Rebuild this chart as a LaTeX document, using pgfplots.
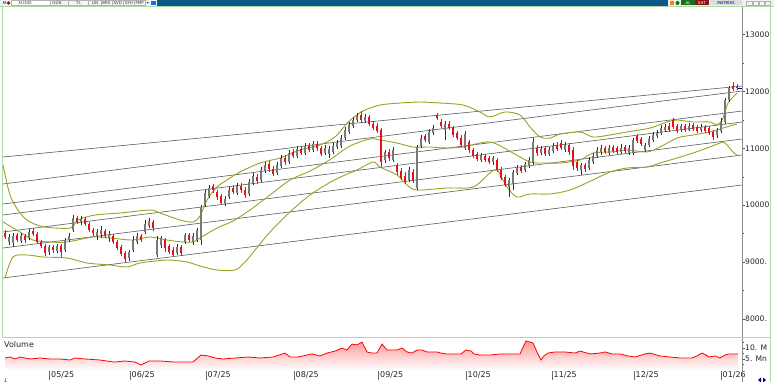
\documentclass[border=0pt]{standalone}
\usepackage{fontspec}
\setmainfont{DejaVu Sans}
\usepackage{pgfplots}
\usepackage{pgfplotstable}
\pgfplotsset{compat=1.18}
\definecolor{band}{HTML}{A0A024}
\definecolor{chan}{HTML}{5A5A5A}
\definecolor{upb}{HTML}{787878}
\definecolor{upw}{HTML}{2E2E2E}
\definecolor{dnb}{HTML}{E8101A}
\definecolor{brd}{HTML}{A9DBA9}
\definecolor{topblue}{HTML}{0D5889}
\definecolor{algreen}{HTML}{1E6A1E}
\definecolor{satred}{HTML}{8A1212}

\pgfplotstableread{
x o h l c
5 9509 9562 9404 9439
17 9474 9509 9351 9386
25 9456 9492 9333 9386
33 9544 9597 9456 9492
37 9492 9527 9316 9351
41 9351 9386 9245 9280
45 9280 9316 9104 9157
53 9263 9298 9157 9210
61 9280 9316 9087 9175
77 9773 9808 9668 9703
85 9756 9791 9632 9668
89 9668 9703 9527 9562
93 9562 9597 9456 9509
105 9544 9580 9421 9456
113 9456 9492 9316 9351
117 9351 9386 9210 9245
121 9263 9298 9104 9140
125 9157 9192 8999 9052
141 9456 9492 9351 9386
153 9703 9738 9544 9597
165 9386 9421 9175 9245
169 9280 9316 9140 9175
173 9210 9263 9087 9122
181 9263 9298 9104 9157
189 9474 9509 9351 9386
213 10336 10372 10213 10266
217 10231 10266 10090 10143
221 10160 10196 10002 10037
233 10301 10354 10196 10231
241 10336 10389 10213 10266
245 10266 10319 10125 10178
257 10495 10548 10372 10424
269 10724 10776 10583 10636
273 10636 10688 10512 10548
285 10829 10882 10706 10759
293 10935 10988 10829 10864
301 10988 11040 10882 10917
309 11040 11093 10935 10970
317 11076 11128 10952 11005
321 11005 11040 10864 10900
361 11586 11656 11445 11498
369 11551 11586 11392 11428
373 11428 11480 11322 11357
377 11392 11445 11269 11304
381 11322 11357 10671 10759
389 10935 10988 10776 10829
397 10706 10741 10530 10583
401 10600 10653 10442 10477
405 10512 10583 10372 10424
413 10583 10636 10389 10442
425 11216 11252 11111 11146
437 11586 11621 11498 11533
441 11463 11516 11357 11392
449 11428 11480 11322 11357
453 11357 11392 11199 11234
457 11269 11304 11146 11181
461 11181 11234 11023 11058
469 11111 11146 10917 10970
473 10970 11005 10829 10864
477 10900 10935 10776 10812
485 10864 10900 10759 10794
489 10829 10864 10724 10759
497 10794 10829 10583 10618
501 10618 10671 10442 10477
505 10495 10530 10319 10354
521 10671 10706 10565 10600
537 11005 11058 10864 10917
545 11005 11040 10864 10900
557 11058 11111 10952 10988
561 11093 11146 10970 11005
569 11058 11093 10882 10935
573 10970 11023 10618 10688
577 10759 10794 10600 10653
585 10706 10741 10583 10636
605 11005 11040 10900 10935
613 11023 11058 10917 10952
617 11005 11040 10900 10935
625 11023 11058 10917 10952
637 11216 11252 11093 11128
641 11164 11199 11040 11076
669 11392 11445 11287 11322
673 11498 11533 11340 11375
677 11392 11428 11269 11304
685 11392 11428 11287 11322
693 11410 11445 11304 11340
697 11375 11410 11269 11304
705 11375 11410 11269 11304
709 11357 11392 11234 11269
713 11287 11322 11146 11199
733 12096 12167 12008 12044
737 12079 12132 12026 12061
}\dn

\pgfplotstableread{
x o h l c
9 9351 9492 9298 9439
13 9333 9509 9263 9456
21 9368 9509 9333 9456
29 9421 9580 9386 9527
49 9175 9298 9122 9263
57 9192 9316 9157 9280
65 9210 9421 9175 9386
69 9386 9509 9351 9456
73 9562 9826 9527 9773
81 9703 9808 9650 9756
97 9456 9580 9386 9527
101 9492 9632 9421 9562
109 9421 9544 9351 9492
129 9069 9210 9016 9175
133 9210 9456 9175 9386
137 9351 9509 9316 9456
145 9527 9738 9492 9668
149 9632 9773 9597 9720
157 9122 9456 9087 9386
161 9298 9456 9245 9421
177 9157 9316 9122 9263
185 9351 9509 9316 9474
193 9351 9509 9298 9456
197 9386 9597 9351 9562
201 9386 10002 9298 9967
205 10002 10266 9967 10213
209 10160 10354 10125 10301
225 10020 10160 9984 10108
229 10143 10319 10108 10266
237 10213 10389 10178 10336
249 10196 10460 10160 10407
253 10389 10565 10354 10512
261 10442 10671 10407 10618
265 10600 10759 10565 10706
277 10565 10759 10530 10706
281 10688 10882 10653 10829
289 10759 10970 10724 10917
297 10864 11040 10829 10988
305 10917 11093 10882 11040
313 10970 11128 10935 11076
325 10917 11058 10882 11005
329 10900 11040 10829 10988
333 10935 11093 10900 11040
337 11023 11146 10988 11093
341 11040 11234 11005 11181
345 11181 11375 11146 11322
349 11287 11463 11252 11410
353 11392 11551 11357 11498
357 11498 11621 11463 11568
365 11480 11604 11445 11551
385 10794 10970 10741 10935
393 10794 11023 10759 10970
409 10442 10671 10407 10618
417 10301 11058 10266 11023
421 11040 11234 11005 11181
429 11111 11340 11076 11287
433 11269 11410 11234 11357
445 11322 11480 11146 11428
465 11005 11304 10970 11252
481 10794 10917 10759 10882
493 10759 10864 10706 10829
509 10319 10477 10143 10442
513 10372 10618 10266 10583
517 10565 10706 10530 10653
525 10618 10759 10583 10724
529 10688 10847 10653 10794
533 10759 11181 10706 11111
541 10917 11040 10882 10988
549 10900 11023 10864 10970
553 10952 11093 10917 11040
565 10970 11111 10935 11058
581 10618 10741 10530 10706
589 10653 10847 10618 10794
593 10759 10917 10724 10864
597 10864 11023 10829 10970
601 10935 11058 10882 11005
609 10917 11058 10882 11005
621 10935 11076 10900 11005
629 10917 11058 10882 11005
633 10917 11181 10882 11146
645 10970 11093 10935 11058
649 11058 11216 11023 11164
653 11146 11287 11111 11234
657 11216 11322 11181 11269
661 11269 11410 11234 11357
665 11322 11428 11287 11375
681 11322 11428 11287 11392
689 11322 11445 11304 11392
701 11322 11428 11287 11375
717 11234 11357 11181 11322
721 11304 11533 11269 11463
725 11463 11886 11428 11850
729 11850 12096 11815 12061
}\up

\pgfplotstableread{
x v
5 5.45
10 5.9
15 5.0
20 5.9
25 5.45
30 5.0
40 5.45
50 5.0
60 5.0
70 4.55
75 5.45
85 5.0
100 4.55
114 3.6
125 4.1
135 3.6
141 2.3
149 4.1
160 4.1
175 3.6
185 3.6
193 3.6
201 6.8
208 6.4
215 5.45
223 5.0
235 5.45
248 5.9
260 5.45
273 5.9
285 7.7
290 5.9
298 5.9
312 7.3
320 6.4
327 7.7
335 8.6
342 10.0
347 9.1
352 11.8
357 11.4
362 12.7
367 8.2
372 7.7
377 7.7
382 11.8
387 9.1
392 9.1
397 9.1
402 10.0
407 8.2
412 7.7
417 9.1
422 9.1
427 8.2
432 8.2
437 8.2
441 7.7
446 7.3
451 7.3
456 7.3
461 7.3
466 9.1
471 8.6
474 7.3
480 6.8
490 6.8
500 7.3
510 7.3
520 7.3
526 13.2
530 12.7
533 12.3
537 8.2
541 4.55
544 6.4
548 7.7
555 8.2
565 8.2
575 7.7
580 8.6
590 7.3
600 7.7
605 8.2
612 7.3
620 7.3
628 6.4
635 5.9
645 7.3
650 7.7
660 6.4
670 5.9
680 5.45
685 5.45
692 5.45
697 6.4
702 7.7
706 6.8
709 5.9
715 6.4
720 5.45
725 6.8
729 7.3
735 7.3
738 7.3
}\vol

\pgfplotsset{
  candle/.style n args={2}{draw=none, mark=none, no markers,
    error bars/.cd, y dir=plus, y explicit, error mark=none,
    error bar style={draw=#1, line width=#2, solid}},
}

\begin{document}
\begin{tikzpicture}[x=1pt,y=1pt]
\useasboundingbox (0,0) rectangle (774,382);
\fill[white] (0,0) rectangle (774,382);
\begin{scope}
\clip (0,0) rectangle (769.5,375);
% ---------------- main price panel
\begin{axis}[
  at={(3pt,45pt)}, anchor=south west,
  width=739pt, height=330pt, scale only axis,
  xmin=3, xmax=742, ymin=7679, ymax=13487,
  axis x line=none, axis y line=right,
  y axis line style={-, draw=black!45},
  ytick={8000,9000,10000,11000,12000,13000},
  yticklabels={8000.,9000.,10000,11000,12000,13000},
  minor ytick={8500,9500,10500,11500,12500},
  tick align=outside, major tick length=3pt, minor tick length=2pt,
  ytick style={draw=black!70, line width=0.4pt},
  yticklabel style={font=\fontsize{7.6}{9}\selectfont, inner sep=0pt, xshift=0pt, text=black!85},
]
% channel lines
\addplot[chan, line width=0.6pt] coordinates {(3,10847) (742,12096)};
\addplot[chan, line width=0.6pt] coordinates {(3,10372) (742,12008)};
\addplot[chan, line width=0.6pt] coordinates {(3,10020) (742,11656)};
\addplot[chan, line width=0.6pt] coordinates {(3,9826) (742,11463)};
\addplot[chan, line width=0.6pt] coordinates {(3,9527) (742,11164)};
\addplot[chan, line width=0.6pt] coordinates {(3,9245) (742,10882)};
\addplot[chan, line width=0.6pt] coordinates {(3,8717) (742,10354)};
% bollinger bands
\addplot[band, line width=0.9pt, smooth, tension=0.5] coordinates {
(3,10706) (10,10178) (20,9861) (30,9703) (45,9615) (70,9597) (78,9738) (95,9826) (120,9861) (150,9914) (160,9861) (180,9738) (193,9703) (200,9808) (207,10090) (217,10319) (227,10442) (240,10583) (260,10741) (280,10829) (300,10970) (320,11058) (335,11199) (347,11440) (357,11590) (365,11674) (380,11762) (400,11797) (420,11815) (440,11797) (463,11762) (480,11639) (490,11551) (505,11639) (520,11586) (530,11375) (540,11200) (550,11180) (560,11250) (580,11287) (593,11199) (610,11234) (627,11287) (650,11357) (667,11463) (677,11498) (693,11463) (710,11463) (717,11410) (722,11498) (725,11639) (728,11797) (733,11903) (737,11973)};
\addplot[band, line width=0.9pt, smooth, tension=0.5] coordinates {
(3,9703) (20,9527) (33,9386) (50,9351) (67,9351) (93,9439) (110,9421) (133,9386) (150,9439) (167,9386) (183,9351) (193,9351) (200,9421) (217,9597) (233,9720) (250,9914) (270,10178) (290,10442) (310,10600) (330,10800) (350,11040) (370,11164) (380,11146) (397,11093) (413,11023) (430,11023) (447,11005) (463,11023) (490,11111) (513,10917) (530,10759) (545,10741) (560,10741) (580,10794) (593,10917) (610,10935) (627,10970) (647,10935) (660,11023) (677,11181) (693,11234) (710,11287) (723,11357) (733,11410) (737,11428)};
\addplot[band, line width=0.9pt, smooth, tension=0.5] coordinates {
(5,8718) (13,9087) (27,9122) (43,9087) (67,9069) (87,8981) (110,8946) (127,8911) (140,8981) (167,9034) (187,8999) (200,8928) (217,8858) (235,8858) (245,8999) (255,9210) (270,9527) (290,9880) (310,10178) (330,10400) (345,10530) (357,10618) (373,10759) (380,10671) (397,10530) (407,10354) (417,10266) (447,10301) (473,10319) (490,10565) (497,10618) (507,10319) (517,10143) (530,10196) (550,10196) (570,10266) (593,10442) (610,10583) (627,10653) (647,10671) (660,10741) (677,10829) (693,10917) (707,11005) (720,11093) (723,11111) (727,11058) (733,10935) (737,10882)};
% candles: wicks
\addplot[candle={upw}{0.8pt}] table[x=x, y=l, y error expr=\thisrow{h}-\thisrow{l}] {\up};
\addplot[candle={dnb}{0.8pt}] table[x=x, y=l, y error expr=\thisrow{h}-\thisrow{l}] {\dn};
% candles: bodies
\addplot[candle={upb}{2.9pt}] table[x=x, y=o, y error expr=\thisrow{c}-\thisrow{o}] {\up};
\addplot[candle={dnb}{2.9pt}] table[x=x, y=c, y error expr=\thisrow{o}-\thisrow{c}] {\dn};
% last price marker
\addplot[blue!70!black, line width=0.8pt] coordinates {(738,12061) (742,12061)};
\end{axis}
% ---------------- volume panel
\begin{axis}[
  at={(3pt,12pt)}, anchor=south west,
  width=739pt, height=32pt, scale only axis,
  xmin=3, xmax=742, ymin=0, ymax=14.55,
  axis x line=none, axis y line=right,
  y axis line style={-, draw=black!45},
  ytick={5,10}, yticklabels={5. Mn,10. M},
  minor ytick={2.5,7.5,12.5},
  tick align=outside, major tick length=3pt, minor tick length=2pt,
  ytick style={draw=black!70, line width=0.4pt},
  yticklabel style={font=\fontsize{7.6}{9}\selectfont, inner sep=0pt, xshift=0pt, text=black!85},
]
\addplot[draw=none, top color=red!40, bottom color=white] table[x=x, y=v] {\vol} \closedcycle;
\addplot[red, line width=0.8pt] table[x=x, y=v] {\vol};
\end{axis}
% ---------------- date strip
\begin{axis}[
  at={(3pt,2pt)}, anchor=south west,
  width=739pt, height=10pt, scale only axis,
  xmin=3, xmax=742, ymin=0, ymax=1,
  axis y line=none, axis x line=bottom,
  x axis line style={-, draw=none},
  xtick={49.5,130,206,294,378.5,466,552,634,721},
  xticklabels={05/25,06/25,07/25,08/25,09/25,10/25,11/25,12/25,01/26},
  tick align=inside, major tick length=9pt,
  xtick style={draw=black!60, line width=0.5pt},
  xticklabel style={anchor=base west, inner sep=0pt, xshift=1.5pt, yshift=2pt,
    font=\fontsize{8}{9}\selectfont, text=black!85},
]
\addplot[draw=none] coordinates {(3,0)};
\end{axis}
\end{scope}
\node[anchor=west, inner sep=0pt, font=\fontsize{8}{9}\selectfont, text=black!85] at (4,37) {Volume};
% borders
\draw[black!45, line width=0.4pt] (742,0) -- (742,12);
\draw[brd, line width=1pt] (2.5,44) -- (2.5,375.5);
\draw[brd, line width=1pt] (2.5,44) -- (770,44);
\draw[brd, line width=1pt] (0,375.5) -- (774,375.5);
\draw[brd, line width=1pt] (770,0) -- (770,375.5);
% bottom right scroll icons
\fill[blue!60!black] (758,2) -- (761,4.5) -- (761,-0.5) -- cycle;
\fill[blue!60!black] (766,2) -- (763,4.5) -- (763,-0.5) -- cycle;
\draw[black!40, line width=0.4pt] (5,1) -- (5,4) (3.5,1) -- (6.5,1);
% top bar
\fill[black!6] (0,376) rectangle (774,382);
\fill[topblue] (157,376) rectangle (668,382);
\begin{scope}[every node/.style={inner sep=0pt, font=\fontsize{4}{4}\selectfont, text=black!80}]
\node[text=blue!70!black] at (4.5,379) {M};
\fill[red!75!black] (8.5,379) circle (1.8);
\draw[black!30, fill=white, line width=0.3pt] (11,376.6) rectangle (50,381.4);
\node at (25,379) {XU100};
\draw[black!30, fill=black!4, line width=0.3pt] (50,376.6) rectangle (68,381.4);
\node at (57,379) {GÜN};
\draw[black!30, fill=black!4, line width=0.3pt] (68,376.6) rectangle (88,381.4);
\node at (78.5,379) {TL};
\draw[black!30, fill=black!4, line width=0.3pt] (88,376.6) rectangle (101,381.4);
\node at (95,379) {LIN};
\draw[black!30, fill=black!4, line width=0.3pt] (101,376.6) rectangle (112,381.4);
\node at (106.5,379) {BRS};
\draw[black!30, fill=black!4, line width=0.3pt] (112,376.6) rectangle (123.5,381.4);
\node at (117.7,379) {SVD};
\draw[black!30, fill=black!4, line width=0.3pt] (123.5,376.6) rectangle (134.5,381.4);
\node at (129,379) {SYH};
\draw[black!30, fill=black!4, line width=0.3pt] (134.5,376.6) rectangle (145,381.4);
\node at (139.7,379) {FMP};
\node at (147.8,379) {▾};
\fill[blue!55!cyan] (151,377) rectangle (156,381);
\fill[orange] (669.5,377) rectangle (673.5,381);
\fill[green!50!black] (677.5,379) circle (2);
\fill[algreen] (681,376.5) rectangle (695,381.5);
\node[text=white] at (688,379) {AL};
\fill[satred] (695,376.5) rectangle (708.5,381.5);
\node[text=white] at (701.7,379) {SAT};
\fill[black!13] (710,376.5) rectangle (742,381.5);
\node[text=blue!50!black] at (726,379) {MATRİKS};
\draw[black!30, fill=black!4, line width=0.3pt] (746,377) rectangle (752,381);
\draw[black!30, fill=black!4, line width=0.3pt] (753,377) rectangle (758,381);
\draw[black!30, fill=black!4, line width=0.3pt] (759,377) rectangle (764,381);
\draw[black!30, fill=black!4, line width=0.3pt] (765,377) rectangle (770,381);
\end{scope}
\end{tikzpicture}
\end{document}
